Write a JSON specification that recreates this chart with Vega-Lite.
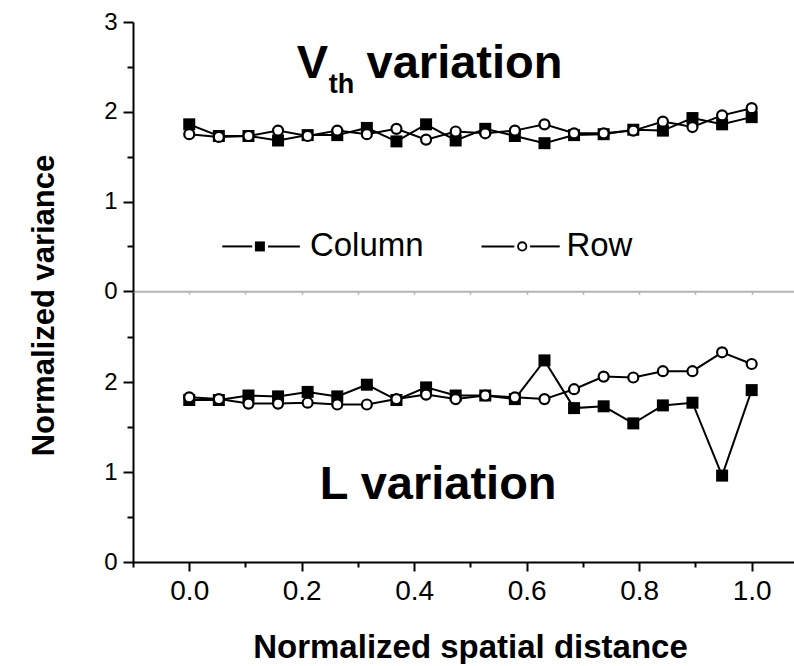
{
  "$schema": "https://vega.github.io/schema/vega-lite/v6.json",
  "padding": {"left": 28, "top": 10, "right": 0, "bottom": 0},
  "spacing": 0,
  "bounds": "flush",
  "background": "white",
  "config": {
    "view": {"stroke": null},
    "font": "Liberation Sans",
    "axis": {"grid": false, "domainColor": "black", "domainWidth": 2, "tickColor": "black", "tickWidth": 2, "labelColor": "black", "titleColor": "black", "labelFont": "Liberation Sans", "titleFont": "Liberation Sans"}
  },
  "datasets": {
    "vth": [
      {"x": 0.0, "v": 1.86, "s": "Column"}, {"x": 0.0526, "v": 1.73, "s": "Column"}, {"x": 0.1053, "v": 1.73, "s": "Column"}, {"x": 0.1579, "v": 1.68, "s": "Column"}, {"x": 0.2105, "v": 1.74, "s": "Column"},
      {"x": 0.2632, "v": 1.74, "s": "Column"}, {"x": 0.3158, "v": 1.82, "s": "Column"}, {"x": 0.3684, "v": 1.67, "s": "Column"}, {"x": 0.4211, "v": 1.86, "s": "Column"}, {"x": 0.4737, "v": 1.68, "s": "Column"},
      {"x": 0.5263, "v": 1.81, "s": "Column"}, {"x": 0.5789, "v": 1.73, "s": "Column"}, {"x": 0.6316, "v": 1.65, "s": "Column"}, {"x": 0.6842, "v": 1.74, "s": "Column"}, {"x": 0.7368, "v": 1.75, "s": "Column"},
      {"x": 0.7895, "v": 1.80, "s": "Column"}, {"x": 0.8421, "v": 1.79, "s": "Column"}, {"x": 0.8947, "v": 1.93, "s": "Column"}, {"x": 0.9474, "v": 1.86, "s": "Column"}, {"x": 1.0, "v": 1.94, "s": "Column"},
      {"x": 0.0, "v": 1.75, "s": "Row"}, {"x": 0.0526, "v": 1.72, "s": "Row"}, {"x": 0.1053, "v": 1.73, "s": "Row"}, {"x": 0.1579, "v": 1.79, "s": "Row"}, {"x": 0.2105, "v": 1.73, "s": "Row"},
      {"x": 0.2632, "v": 1.79, "s": "Row"}, {"x": 0.3158, "v": 1.75, "s": "Row"}, {"x": 0.3684, "v": 1.81, "s": "Row"}, {"x": 0.4211, "v": 1.69, "s": "Row"}, {"x": 0.4737, "v": 1.78, "s": "Row"},
      {"x": 0.5263, "v": 1.76, "s": "Row"}, {"x": 0.5789, "v": 1.79, "s": "Row"}, {"x": 0.6316, "v": 1.86, "s": "Row"}, {"x": 0.6842, "v": 1.76, "s": "Row"}, {"x": 0.7368, "v": 1.76, "s": "Row"},
      {"x": 0.7895, "v": 1.79, "s": "Row"}, {"x": 0.8421, "v": 1.89, "s": "Row"}, {"x": 0.8947, "v": 1.83, "s": "Row"}, {"x": 0.9474, "v": 1.96, "s": "Row"}, {"x": 1.0, "v": 2.04, "s": "Row"}
    ],
    "lvar": [
      {"x": 0.0, "v": 1.80, "s": "Column"}, {"x": 0.0526, "v": 1.80, "s": "Column"}, {"x": 0.1053, "v": 1.85, "s": "Column"}, {"x": 0.1579, "v": 1.84, "s": "Column"}, {"x": 0.2105, "v": 1.89, "s": "Column"},
      {"x": 0.2632, "v": 1.84, "s": "Column"}, {"x": 0.3158, "v": 1.97, "s": "Column"}, {"x": 0.3684, "v": 1.80, "s": "Column"}, {"x": 0.4211, "v": 1.94, "s": "Column"}, {"x": 0.4737, "v": 1.85, "s": "Column"},
      {"x": 0.5263, "v": 1.85, "s": "Column"}, {"x": 0.5789, "v": 1.81, "s": "Column"}, {"x": 0.6316, "v": 2.24, "s": "Column"}, {"x": 0.6842, "v": 1.71, "s": "Column"}, {"x": 0.7368, "v": 1.73, "s": "Column"},
      {"x": 0.7895, "v": 1.54, "s": "Column"}, {"x": 0.8421, "v": 1.74, "s": "Column"}, {"x": 0.8947, "v": 1.77, "s": "Column"}, {"x": 0.9474, "v": 0.96, "s": "Column"}, {"x": 1.0, "v": 1.91, "s": "Column"},
      {"x": 0.0, "v": 1.83, "s": "Row"}, {"x": 0.0526, "v": 1.81, "s": "Row"}, {"x": 0.1053, "v": 1.76, "s": "Row"}, {"x": 0.1579, "v": 1.76, "s": "Row"}, {"x": 0.2105, "v": 1.77, "s": "Row"},
      {"x": 0.2632, "v": 1.75, "s": "Row"}, {"x": 0.3158, "v": 1.75, "s": "Row"}, {"x": 0.3684, "v": 1.81, "s": "Row"}, {"x": 0.4211, "v": 1.86, "s": "Row"}, {"x": 0.4737, "v": 1.81, "s": "Row"},
      {"x": 0.5263, "v": 1.85, "s": "Row"}, {"x": 0.5789, "v": 1.83, "s": "Row"}, {"x": 0.6316, "v": 1.81, "s": "Row"}, {"x": 0.6842, "v": 1.92, "s": "Row"}, {"x": 0.7368, "v": 2.06, "s": "Row"},
      {"x": 0.7895, "v": 2.05, "s": "Row"}, {"x": 0.8421, "v": 2.12, "s": "Row"}, {"x": 0.8947, "v": 2.12, "s": "Row"}, {"x": 0.9474, "v": 2.33, "s": "Row"}, {"x": 1.0, "v": 2.20, "s": "Row"}
    ]
  },
  "vconcat": [
    {
      "width": 662,
      "height": 269.3,
      "encoding": {
        "x": {"field": "x", "type": "quantitative", "scale": {"domain": [-0.1, 1.077], "nice": false, "zero": false},
          "axis": {"values": [-0.1, 0, 0.1, 0.2, 0.3, 0.4, 0.5, 0.6, 0.7, 0.8, 0.9, 1.0], "labels": false, "title": null, "domainColor": "#b4b4b4", "domainWidth": 2, "tickColor": "#b4b4b4", "tickSize": 3, "tickWidth": 1.5}},
        "y": {"field": "v", "type": "quantitative", "scale": {"domain": [0, 3], "nice": false, "zero": false},
          "axis": {"values": [0, 0.5, 1, 1.5, 2, 2.5, 3], "labelExpr": "datum.value % 1 == 0 ? format(datum.value, 'd') : ''",
            "tickSize": {"condition": {"test": "datum.value % 1 == 0", "value": 10}, "value": 6},
            "labelFontSize": 24, "labelPadding": 6,
            "title": "Normalized variance", "titleFontSize": 31, "titleFontWeight": "bold", "titleAngle": 270, "titleAlign": "center", "titleBaseline": "alphabetic", "titleX": -80, "titleY": 283}}
      },
      "layer": [
        {"data": {"name": "vth"}, "transform": [{"filter": "datum.s == 'Column'"}], "mark": {"type": "line", "color": "black", "strokeWidth": 2}},
        {"data": {"name": "vth"}, "transform": [{"filter": "datum.s == 'Column'"}], "mark": {"type": "point", "shape": "square", "size": 144, "filled": true, "color": "black", "opacity": 1}},
        {"data": {"name": "vth"}, "transform": [{"filter": "datum.s == 'Row'"}], "mark": {"type": "line", "color": "black", "strokeWidth": 2}},
        {"data": {"name": "vth"}, "transform": [{"filter": "datum.s == 'Row'"}], "mark": {"type": "point", "shape": "circle", "size": 100, "fill": "white", "stroke": "black", "strokeWidth": 2.2, "opacity": 1, "fillOpacity": 1}},
        {"data": {"values": [{"x": 0.0588, "x2": 0.112, "v": 0.5}, {"x": 0.14, "x2": 0.1967, "v": 0.5}, {"x": 0.5196, "x2": 0.578, "v": 0.5}, {"x": 0.606, "x2": 0.6587, "v": 0.5}]},
          "mark": {"type": "rule", "color": "black", "strokeWidth": 2}, "encoding": {"x2": {"field": "x2"}}},
        {"data": {"values": [{"x": 0.1256, "v": 0.5}]}, "mark": {"type": "point", "shape": "square", "size": 100, "filled": true, "color": "black", "opacity": 1}},
        {"data": {"values": [{"x": 0.592, "v": 0.5}]}, "mark": {"type": "point", "shape": "circle", "size": 70, "fill": "white", "stroke": "black", "strokeWidth": 1.8, "opacity": 1, "fillOpacity": 1}},
        {"data": {"values": [{"x": 0.2145, "v": 0.39, "t": "Column"}, {"x": 0.6706, "v": 0.39, "t": "Row"}]},
          "mark": {"type": "text", "align": "left", "baseline": "alphabetic", "fontSize": 33, "color": "black"}, "encoding": {"text": {"field": "t"}}},
        {"data": {"values": [{"x": 0.191, "v": 2.375, "t": "V"}, {"x": 0.3153, "v": 2.375, "t": "variation"}]},
          "mark": {"type": "text", "align": "left", "baseline": "alphabetic", "fontSize": 47, "fontWeight": "bold", "color": "black"}, "encoding": {"text": {"field": "t"}}},
        {"data": {"values": [{"x": 0.248, "v": 2.21, "t": "th"}]},
          "mark": {"type": "text", "align": "left", "baseline": "alphabetic", "fontSize": 27, "fontWeight": "bold", "color": "black"}, "encoding": {"text": {"field": "t"}}}
      ]
    },
    {
      "width": 662,
      "height": 270,
      "encoding": {
        "x": {"field": "x", "type": "quantitative", "scale": {"domain": [-0.1, 1.077], "nice": false, "zero": false},
          "axis": {"values": [-0.1, 0, 0.1, 0.2, 0.3, 0.4, 0.5, 0.6, 0.7, 0.8, 0.9, 1.0],
            "labelExpr": "abs(round(datum.value * 10)) % 2 == 0 && datum.value >= 0 ? format(datum.value, '.1f') : ''",
            "tickSize": {"condition": {"test": "abs(round(datum.value * 10)) % 2 == 0", "value": 9}, "value": 5},
            "labelFontSize": 28, "labelPadding": 6, "labelFlush": false, "labelOverlap": false,
            "title": "Normalized spatial distance", "titleFontSize": 33, "titleFontWeight": "bold", "titleBaseline": "alphabetic", "titleAlign": "center", "titleX": 337, "titleY": 95}},
        "y": {"field": "v", "type": "quantitative", "scale": {"domain": [0, 3], "nice": false, "zero": false},
          "axis": {"values": [0, 0.5, 1, 1.5, 2, 2.5], "labelExpr": "datum.value % 1 == 0 ? format(datum.value, 'd') : ''",
            "tickSize": {"condition": {"test": "datum.value % 1 == 0", "value": 10}, "value": 6},
            "labelFontSize": 24, "labelPadding": 6, "title": null}}
      },
      "layer": [
        {"data": {"name": "lvar"}, "transform": [{"filter": "datum.s == 'Column'"}], "mark": {"type": "line", "color": "black", "strokeWidth": 2}},
        {"data": {"name": "lvar"}, "transform": [{"filter": "datum.s == 'Column'"}], "mark": {"type": "point", "shape": "square", "size": 144, "filled": true, "color": "black", "opacity": 1}},
        {"data": {"name": "lvar"}, "transform": [{"filter": "datum.s == 'Row'"}], "mark": {"type": "line", "color": "black", "strokeWidth": 2}},
        {"data": {"name": "lvar"}, "transform": [{"filter": "datum.s == 'Row'"}], "mark": {"type": "point", "shape": "circle", "size": 100, "fill": "white", "stroke": "black", "strokeWidth": 2.2, "opacity": 1, "fillOpacity": 1}},
        {"data": {"values": [{"x": 0.232, "v": 0.703, "t": "L variation"}]},
          "mark": {"type": "text", "align": "left", "baseline": "alphabetic", "fontSize": 47, "fontWeight": "bold", "color": "black"}, "encoding": {"text": {"field": "t"}}}
      ]
    }
  ]
}
